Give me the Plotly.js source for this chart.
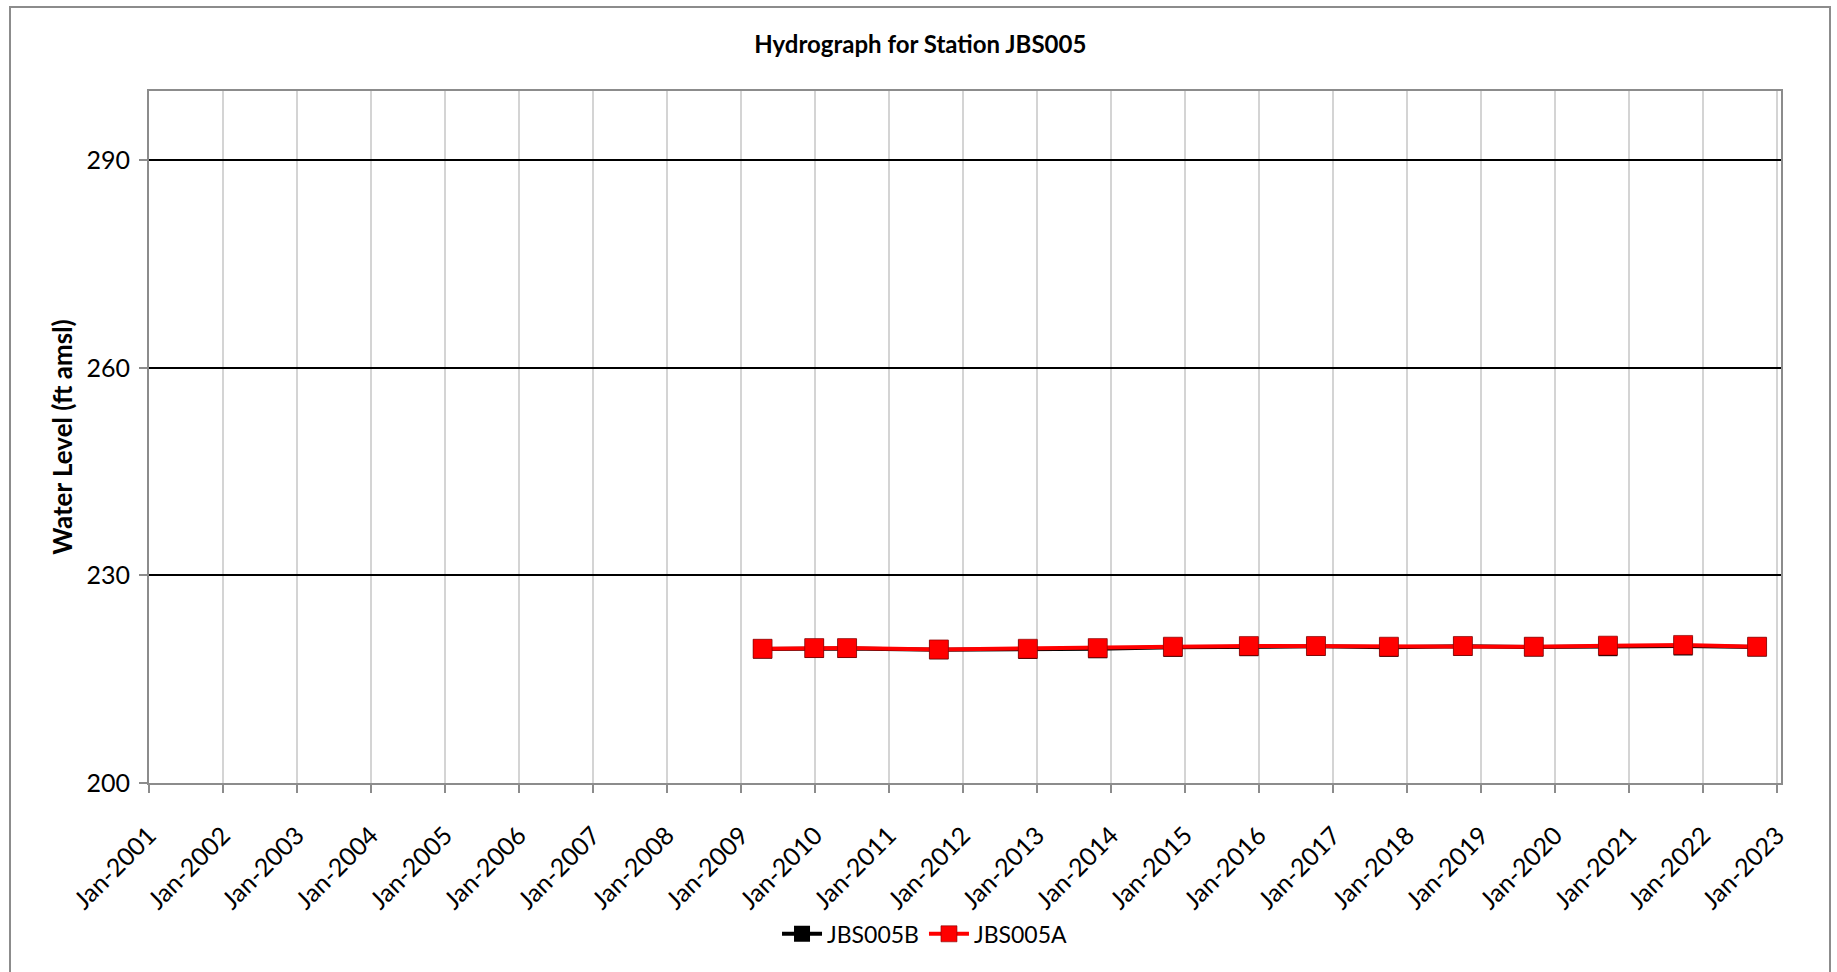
<!DOCTYPE html>
<html>
<head>
<meta charset="utf-8">
<script src="https://cdn.plot.ly/plotly-3.0.1.min.js"></script>
<style>
  html, body { margin: 0; padding: 0; background: #fff; }
  #wrap { position: relative; width: 1837px; height: 972px; overflow: hidden; }
  #chart { width: 1837px; height: 972px; }
  #frame { position: absolute; left: 9px; top: 6px; width: 1822px; height: 980px;
           border: 2px solid #8c8c8c; pointer-events: none; box-sizing: border-box; }
</style>
</head>
<body>
<div id="wrap">
  <div id="chart"></div>
  <div id="frame"></div>
</div>
<script>
// Sample dates
const datesA = ['2009-04-17','2009-12-28','2010-06-08','2011-09-04','2012-11-16','2013-10-27',
                '2014-11-02','2015-11-12','2016-10-08','2017-10-03','2018-10-03','2019-09-18',
                '2020-09-18','2021-09-24','2022-09-24'];
const levelsA = [219.4, 219.5, 219.5, 219.3, 219.4, 219.5, 219.7, 219.8, 219.8, 219.7, 219.8, 219.7,
                 219.85, 219.95, 219.7];
const datesB = datesA;
const levelsB = [219.35, 219.45, 219.45, 219.25, 219.3, 219.4, 219.6, 219.7, 219.75, 219.6, 219.75, 219.65,
                 219.7, 219.8, 219.65];
const seriesNames = ['JBS005B', 'JBS005A'];
const yTicks = [200, 230, 260, 290];

const font = 'Lato, "Liberation Sans", sans-serif';

const traces = [
  {
    x: datesB, y: levelsB, name: seriesNames[0], type: 'scatter', mode: 'lines+markers',
    line: { color: '#000000', width: 4 },
    marker: { symbol: 'square', size: 19, color: '#000000' }
  },
  {
    x: datesA, y: levelsA, name: seriesNames[1], type: 'scatter', mode: 'lines+markers',
    line: { color: '#ff0000', width: 4 },
    marker: { symbol: 'square', size: 19, color: '#ff0000', line: { color: '#7a0000', width: 0.6 } }
  }
];

const layout = {
  width: 1837, height: 972,
  margin: { l: 149, r: 56, t: 91, b: 189 },
  paper_bgcolor: '#ffffff', plot_bgcolor: '#ffffff',
  font: { family: font, color: '#000000', size: 22 },
  title: {
    text: '<b>Hydrograph for Station JBS005</b>',
    font: { family: font, size: 24, color: '#000' },
    x: 0.501, xref: 'container', xanchor: 'center',
    y: 1 - 45 / 972, yref: 'container', yanchor: 'middle'
  },
  xaxis: {
    type: 'date',
    range: ['2001-01-01', '2023-01-20'],
    tick0: '2001-01-01', dtick: 'M12', tickformat: '%b-%Y',
    tickangle: -45,
    tickfont: { family: font, size: 25, color: '#000' },
    showgrid: true, gridcolor: '#d4d4d4', gridwidth: 2,
    showline: true, linecolor: '#8c8c8c', linewidth: 2, mirror: true,
    ticks: 'outside', ticklen: 8, tickcolor: '#8c8c8c', tickwidth: 2,
    ticklabelstandoff: 18,
    zeroline: false
  },
  yaxis: {
    range: [200, 300],
    tickvals: yTicks,
    ticktext: yTicks.map(String),
    tickfont: { family: font, size: 25, color: '#000' },
    showgrid: true, gridcolor: '#000000', gridwidth: 2,
    showline: true, linecolor: '#8c8c8c', linewidth: 2, mirror: true,
    ticks: 'outside', ticklen: 8, tickcolor: '#8c8c8c', tickwidth: 2,
    ticklabelstandoff: 4,
    zeroline: false,
    title: { text: '<b>Water Level (ft amsl)</b>', font: { family: font, size: 26, color: '#000' }, standoff: 6 }
  },
  showlegend: true,
  legend: {
    orientation: 'h',
    x: 0.4755, xanchor: 'center',
    y: -0.218, yanchor: 'middle',
    font: { family: font, size: 23, color: '#000' },
    bgcolor: 'rgba(0,0,0,0)',
    itemwidth: 40
  }
};

Plotly.newPlot('chart', traces, layout, { displayModeBar: false, staticPlot: true });
</script>
</body>
</html>
